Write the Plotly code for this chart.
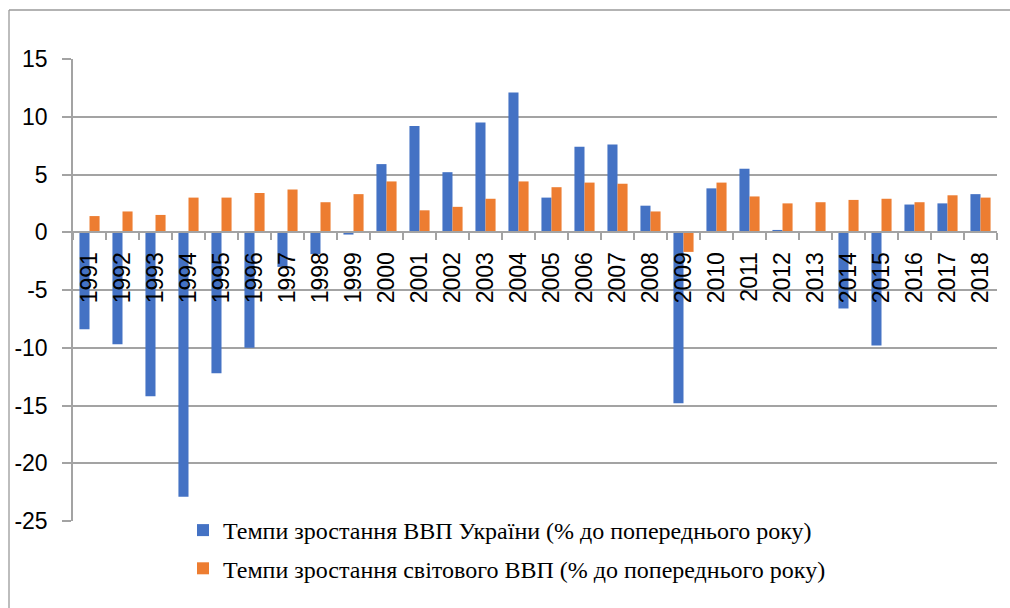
import plotly.graph_objects as go

years = [str(y) for y in range(1991, 2019)]
ukraine_gdp = [-8.4, -9.7, -14.2, -22.9, -12.2, -10.0, -3.0, -1.9, -0.2, 5.9,
               9.2, 5.2, 9.5, 12.1, 3.0, 7.4, 7.6, 2.3, -14.8, 3.8,
               5.5, 0.2, 0.0, -6.6, -9.8, 2.4, 2.5, 3.3]
world_gdp = [1.4, 1.8, 1.5, 3.0, 3.0, 3.4, 3.7, 2.6, 3.3, 4.4,
             1.9, 2.2, 2.9, 4.4, 3.9, 4.3, 4.2, 1.8, -1.7, 4.3,
             3.1, 2.5, 2.6, 2.8, 2.9, 2.6, 3.2, 3.0]
series_names = ["Темпи зростання ВВП України (% до попереднього року)",
                "Темпи зростання світового ВВП (% до попереднього року)"]
y_ticks = [15, 10, 5, 0, -5, -10, -15, -20, -25]
y_tick_text = ["15", "10", "5", "0", "-5", "-10", "-15", "-20", "-25"]

W, H = 1010, 608
ML, MR, MT, MB = 73, 13, 59, 87
PW, PH = W - ML - MR, H - MT - MB

def px_x(px):
    return (px - ML) / PW

def px_y(py):
    return (H - MB - py) / PH

grid = "#a3a3a3"

fig = go.Figure()
fig.add_trace(go.Bar(x=years, y=ukraine_gdp, name=series_names[0],
                     marker=dict(color="#4472C4", line=dict(width=0)),
                     legendgroup="a"))
fig.add_trace(go.Bar(x=years, y=world_gdp, name=series_names[1],
                     marker=dict(color="#ED7D31", line=dict(width=0)),
                     legendgroup="b"))

fig.update_layout(
    width=W, height=H,
    margin=dict(l=ML, r=MR, t=MT, b=MB, autoexpand=False),
    paper_bgcolor="white", plot_bgcolor="white",
    barmode="group", bargap=0.39, bargroupgap=0,
    font=dict(family="Liberation Sans", size=23, color="black"),
    xaxis=dict(type="category", range=[-0.5, 27.5], anchor="free",
               position=25 / 40, showline=True, linecolor=grid, linewidth=1.5,
               ticks="outside", tickson="boundaries", ticklen=7,
               tickcolor=grid, tickwidth=1.5, tickangle=-90,
               showgrid=False, zeroline=False,
               tickfont=dict(family="Liberation Sans", size=23),
               ticklabelstandoff=10),
    yaxis=dict(range=[-25, 15], tickvals=y_ticks, ticktext=y_tick_text,
               showgrid=True,
               gridcolor=grid, gridwidth=1.5, zeroline=False,
               showline=True, linecolor=grid, linewidth=1.5,
               ticks="outside", ticklen=9, tickcolor=grid, tickwidth=1.5,
               tickfont=dict(family="Liberation Sans", size=23),
               ticklabelstandoff=10),
    legend=dict(x=px_x(183), y=px_y(508), xanchor="left", yanchor="top",
                orientation="v", tracegroupgap=4,
                font=dict(family="Liberation Serif", size=24, color="black"),
                bgcolor="rgba(0,0,0,0)"),
    showlegend=True,
)

# outer chart frame (left and top edges)
fig.add_shape(type="line", xref="paper", yref="paper",
              x0=px_x(9), x1=px_x(9), y0=px_y(10), y1=px_y(H + 2),
              line=dict(color="#9a9a9a", width=1.3))
fig.add_shape(type="line", xref="paper", yref="paper",
              x0=px_x(9), x1=px_x(W + 2), y0=px_y(10), y1=px_y(10),
              line=dict(color="#9a9a9a", width=1.3))

fig.write_html("out.html",
               config={"displayModeBar": False},
               post_script="document.body.style.margin='0';"
                           "document.body.style.overflow='hidden';")
